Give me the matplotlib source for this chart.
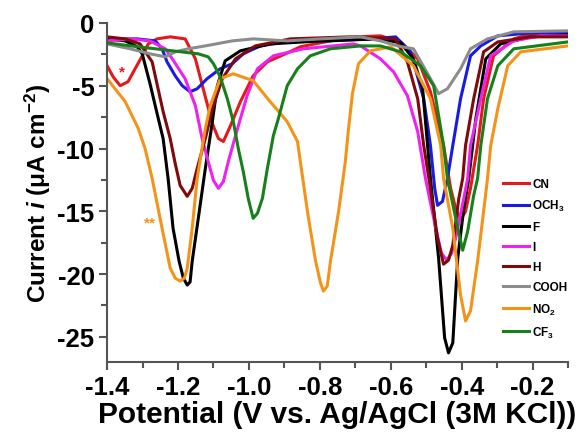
import matplotlib
matplotlib.use("Agg")
import matplotlib.pyplot as plt
from matplotlib.ticker import MultipleLocator

plt.rcParams['font.family'] = ['Liberation Sans', 'DejaVu Sans']
plt.rcParams['font.weight'] = 'bold'
plt.rcParams['mathtext.fontset'] = 'custom'
plt.rcParams['mathtext.rm'] = 'Liberation Sans:bold'
plt.rcParams['mathtext.bf'] = 'Liberation Sans:bold'
plt.rcParams['mathtext.it'] = 'Liberation Sans:bold:italic'
plt.rcParams['mathtext.default'] = 'bf'

# potential (V vs Ag/AgCl) and current density (uA cm-2)
cn_x = [-1.400, -1.383, -1.363, -1.341, -1.321, -1.301, -1.284, -1.259, -1.222, -1.180,
        -1.151, -1.129, -1.103, -1.086, -1.072, -1.053, -1.024, -0.988, -0.948, -0.897,
        -0.855, -0.770, -0.699, -0.629, -0.572, -0.524, -0.488, -0.451, -0.431, -0.417,
        -0.403, -0.389, -0.375, -0.355, -0.338, -0.310, -0.253, -0.205, -0.149, -0.100]
cn_y = [-3.41, -4.29, -5.00, -4.68, -3.65, -2.62, -1.67, -1.27, -1.11, -1.27,
        -2.86, -5.24, -8.02, -9.21, -9.44, -8.25, -6.27, -4.21, -3.10, -2.46,
        -1.90, -1.43, -1.11, -1.03, -1.51, -2.86, -5.48, -9.76, -13.17, -14.76,
        -15.71, -15.00, -13.17, -9.76, -6.03, -2.62, -1.27, -0.87, -0.79, -0.87]

och3_x = [-1.400, -1.315, -1.264, -1.245, -1.231, -1.208, -1.188, -1.166, -1.146, -1.118,
          -1.081, -1.047, -1.016, -0.968, -0.897, -0.770, -0.657, -0.586, -0.544, -0.507,
          -0.488, -0.476, -0.468, -0.454, -0.440, -0.425, -0.403, -0.375, -0.346, -0.298,
          -0.205, -0.100]
och3_y = [-1.27, -1.27, -1.43, -2.06, -3.10, -4.21, -5.00, -5.48, -5.24, -4.44,
          -3.65, -3.25, -2.46, -1.83, -1.51, -1.43, -1.27, -1.11, -2.30, -6.03,
          -9.76, -13.17, -14.52, -14.21, -12.38, -9.76, -6.03, -2.62, -1.83, -1.03,
          -0.79, -0.79]

f_x = [-1.400, -1.349, -1.315, -1.301, -1.279, -1.259, -1.242, -1.228, -1.214, -1.197,
       -1.185, -1.174, -1.166, -1.160, -1.140, -1.123, -1.106, -1.089, -1.067, -1.024,
       -0.940, -0.798, -0.629, -0.572, -0.536, -0.510, -0.488, -0.465, -0.448, -0.437,
       -0.425, -0.411, -0.394, -0.380, -0.360, -0.332, -0.290, -0.205, -0.100]
f_y = [-1.27, -1.43, -1.90, -2.46, -4.84, -7.22, -9.21, -12.38, -16.35, -18.97,
       -20.32, -20.87, -20.63, -18.97, -15.00, -11.59, -8.41, -5.00, -3.02, -2.22,
       -1.67, -1.43, -1.27, -1.59, -2.86, -5.24, -12.38, -18.73, -25.08, -26.27,
       -25.48, -18.73, -14.76, -12.38, -7.62, -2.86, -1.67, -1.11, -0.95]

i_x = [-1.400, -1.335, -1.279, -1.236, -1.216, -1.180, -1.151, -1.132, -1.115, -1.100,
       -1.086, -1.072, -1.058, -1.044, -1.024, -1.005, -0.976, -0.931, -0.846, -0.705,
       -0.685, -0.629, -0.592, -0.553, -0.524, -0.502, -0.473, -0.457, -0.442, -0.428,
       -0.417, -0.394, -0.383, -0.375, -0.346, -0.318, -0.253, -0.177, -0.100]
i_y = [-1.43, -1.27, -1.43, -2.06, -2.86, -4.44, -6.59, -9.21, -11.03, -12.54,
       -13.17, -12.62, -11.03, -9.60, -7.62, -5.79, -3.65, -2.62, -2.06, -1.67,
       -1.83, -2.86, -3.89, -5.79, -8.65, -12.38, -16.35, -18.33, -18.89, -18.33,
       -17.14, -13.97, -12.38, -9.76, -6.03, -2.62, -1.43, -1.03, -1.03]

h_x = [-1.400, -1.349, -1.307, -1.273, -1.242, -1.222, -1.208, -1.194, -1.174, -1.160,
       -1.146, -1.123, -1.103, -1.075, -1.038, -0.982, -0.883, -0.714, -0.586, -0.553,
       -0.524, -0.507, -0.488, -0.468, -0.451, -0.437, -0.425, -0.408, -0.397, -0.389,
       -0.366, -0.338, -0.298, -0.205, -0.100]
h_y = [-1.11, -1.27, -1.67, -3.10, -7.06, -9.21, -11.19, -12.94, -13.81, -13.17,
       -11.59, -9.21, -6.83, -4.44, -2.86, -1.83, -1.27, -1.11, -1.27, -3.10,
       -6.03, -9.76, -13.17, -17.14, -19.21, -18.89, -17.70, -13.97, -12.38, -9.76,
       -6.03, -2.30, -1.51, -1.11, -1.11]

cooh_x = [-1.400, -1.335, -1.279, -1.236, -1.208, -1.171, -1.123, -1.047, -0.988, -0.892,
          -0.798, -0.685, -0.629, -0.581, -0.536, -0.488, -0.465, -0.440, -0.403, -0.375,
          -0.327, -0.253, -0.100]
cooh_y = [-1.67, -2.06, -2.46, -2.70, -2.30, -2.06, -1.83, -1.43, -1.27, -1.43,
          -1.27, -1.11, -1.43, -1.83, -2.06, -4.44, -5.63, -5.24, -3.65, -2.06,
          -1.27, -0.71, -0.63]

no2_x = [-1.400, -1.349, -1.312, -1.293, -1.273, -1.245, -1.222, -1.208, -1.194, -1.182,
         -1.174, -1.160, -1.146, -1.123, -1.109, -1.081, -1.044, -0.988, -0.940, -0.892,
         -0.863, -0.855, -0.835, -0.812, -0.798, -0.790, -0.779, -0.770, -0.747, -0.728,
         -0.719, -0.708, -0.691, -0.657, -0.600, -0.536, -0.488, -0.459, -0.451, -0.425,
         -0.403, -0.389, -0.375, -0.355, -0.338, -0.327, -0.318, -0.298, -0.270, -0.233,
         -0.100]
no2_y = [-4.44, -6.27, -8.41, -10.00, -12.38, -16.35, -19.52, -20.32, -20.56, -20.32,
         -19.52, -16.35, -12.38, -8.41, -6.59, -4.44, -4.05, -4.60, -6.27, -7.86,
         -9.44, -11.03, -15.00, -18.97, -20.71, -21.35, -20.95, -18.97, -15.00, -11.03,
         -8.41, -5.63, -3.25, -2.22, -1.90, -3.41, -6.03, -9.76, -12.38, -16.35,
         -21.67, -23.73, -22.94, -18.97, -15.00, -12.38, -9.76, -6.83, -3.41, -2.30,
         -1.83]

cf3_x = [-1.400, -1.312, -1.216, -1.143, -1.115, -1.100, -1.081, -1.061, -1.044, -1.030,
         -1.016, -1.002, -0.988, -0.976, -0.962, -0.948, -0.931, -0.917, -0.892, -0.863,
         -0.827, -0.770, -0.685, -0.629, -0.572, -0.516, -0.479, -0.451, -0.440, -0.411,
         -0.397, -0.383, -0.366, -0.355, -0.346, -0.327, -0.298, -0.253, -0.100]
cf3_y = [-1.59, -1.90, -2.22, -2.46, -2.70, -3.25, -4.29, -6.03, -7.86, -10.00,
         -11.83, -13.97, -15.56, -15.16, -13.97, -11.59, -8.97, -7.62, -5.00, -3.65,
         -2.62, -2.06, -1.83, -1.83, -2.30, -3.41, -5.00, -9.76, -12.38, -16.35,
         -18.10, -16.59, -13.73, -12.38, -9.76, -6.03, -3.41, -2.06, -1.51]

labels = ['CN', 'OCH$_3$', 'F', 'I', 'H', 'COOH', 'NO$_2$', 'CF$_3$']
colors = ['#e3191c', '#1a1ae6', '#000000', '#ee22ee', '#7f0a0a', '#8c8c8c', '#f39419', '#16801a']
series = [(cn_x, cn_y), (och3_x, och3_y), (f_x, f_y), (i_x, i_y),
          (h_x, h_y), (cooh_x, cooh_y), (no2_x, no2_y), (cf3_x, cf3_y)]

fig = plt.figure(figsize=(5.79, 4.35), dpi=100)
ax = fig.add_axes([0.185, 0.1655, 0.796, 0.7795])

for (xs, ys), lab, col in zip(series, labels, colors):
    ax.plot(xs, ys, color=col, lw=2.2, label=lab, solid_joinstyle='round')

# peak markers
ax.text(-1.358, -3.9, '*', color='#e3191c', fontsize=11, ha='center', va='center')
ax.text(-1.279, -15.9, '**', color='#f39419', fontsize=11, ha='center', va='center')

ax.set_xlim(-1.4, -0.1)
ax.set_ylim(-27, 0)
ax.xaxis.set_major_locator(MultipleLocator(0.2))
ax.xaxis.set_minor_locator(MultipleLocator(0.1))
ax.yaxis.set_major_locator(MultipleLocator(5))
ax.yaxis.set_minor_locator(MultipleLocator(2.5))
ax.set_xticks([-1.4, -1.2, -1.0, -0.8, -0.6, -0.4, -0.2])
ax.set_xticklabels(['-1.4', '-1.2', '-1.0', '-0.8', '-0.6', '-0.4', '-0.2'])
ax.set_yticks([0, -5, -10, -15, -20, -25])
ax.set_yticklabels(['0', '-5', '-10', '-15', '-20', '-25'])

for s in ['top', 'right']:
    ax.spines[s].set_visible(False)
for s in ['left', 'bottom']:
    ax.spines[s].set_color('#555555')
    ax.spines[s].set_linewidth(1.5)
ax.tick_params(which='both', direction='out', color='#555555', width=1.5)
ax.tick_params(which='major', length=6, labelsize=18.5, pad=3)
ax.tick_params(which='minor', length=4)

ax.set_xlabel('Potential (V vs. Ag/AgCl (3M KCl))', fontsize=21.5, fontweight='bold', labelpad=1)
ax.set_ylabel(r'Current $\mathit{i}$ ($\mu$A cm$^{-2}$)', fontsize=17.5, fontweight='bold', labelpad=3)

leg = ax.legend(loc='upper left', bbox_to_anchor=(0.858, 0.542), frameon=False,
                fontsize=8.5, handlelength=2.2, handletextpad=0.3, labelspacing=0.68,
                borderpad=0, borderaxespad=0)
for t in leg.get_texts():
    t.set_fontweight('bold')

fig.savefig('out.png', dpi=100)
